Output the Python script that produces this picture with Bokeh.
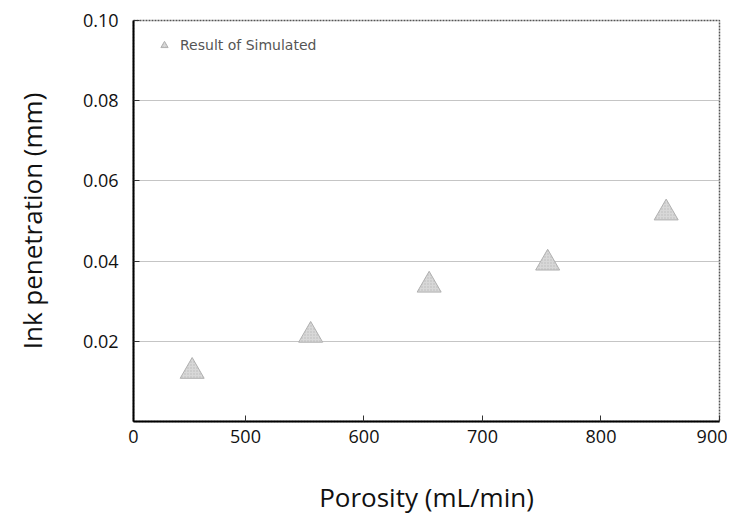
from bokeh.plotting import figure
from bokeh.models import Range1d, FixedTicker, Legend, LegendItem
from bokeh.embed import file_html
from bokeh.resources import INLINE

porosity = [455, 555, 655, 755, 855]
penetration = [0.0125, 0.0215, 0.034, 0.0395, 0.052]
x_ticks = [405.5, 500, 600, 700, 800, 900]
x_tick_labels = {405.5: "0", 500: "500", 600: "600", 700: "700", 800: "800", 900: "900"}
y_ticks = [0.02, 0.04, 0.06, 0.08, 0.10]
y_tick_labels = {0.02: "0.02", 0.04: "0.04", 0.06: "0.06", 0.08: "0.08", 0.10: "0.10"}
series_name = "Result of Simulated"

p = figure(width=727, height=516, output_backend="svg", toolbar_location=None,
           x_range=Range1d(405.5, 900), y_range=Range1d(0, 0.10),
           min_border_left=133, min_border_top=20, min_border_right=8, min_border_bottom=95)
p.frame_width = 586
p.frame_height = 401

r = p.scatter(porosity, penetration, marker="triangle", size=24,
              fill_color="#d8d8d8", line_color="#b0b0b0", line_width=1,
              hatch_pattern="dot", hatch_color="#9a9a9a", hatch_scale=3, hatch_alpha=0.5)

font = "Open Sans"
p.xaxis.ticker = FixedTicker(ticks=x_ticks)
p.xaxis.major_label_overrides = x_tick_labels
p.yaxis.ticker = FixedTicker(ticks=y_ticks)
p.yaxis.major_label_overrides = y_tick_labels
for ax in (p.xaxis, p.yaxis):
    ax.axis_line_color = "black"
    ax.axis_line_width = 2
    ax.major_tick_in = 6
    ax.major_tick_out = 0
    ax.minor_tick_in = 0
    ax.minor_tick_out = 0
    ax.major_tick_line_color = "#333333"
    ax.major_label_text_font = font
    ax.major_label_text_font_size = "18px"
    ax.major_label_text_color = "#111111"
    ax.axis_label_text_font = font
    ax.axis_label_text_font_size = "26px"
    ax.axis_label_text_font_style = "normal"
    ax.axis_label_text_color = "#111111"

p.xaxis.axis_label = "Porosity (mL/min)"
p.yaxis.axis_label = "Ink penetration (mm)"
p.xaxis.major_label_standoff = 8
p.yaxis.major_label_standoff = 15
p.xaxis.axis_label_standoff = 33
p.yaxis.axis_label_standoff = 30

p.xgrid.visible = False
p.ygrid.grid_line_color = "#8a8a8a"
p.ygrid.grid_line_dash = "1 1"
p.ygrid.grid_line_width = 1

p.outline_line_color = "#555555"
p.outline_line_width = 1.5
p.outline_line_dash = "2 1"

legend = Legend(items=[LegendItem(label=series_name, renderers=[r])], location="top_left",
                border_line_color=None, background_fill_alpha=0,
                label_text_font="DejaVu Sans", label_text_font_size="14px",
                label_text_color="#555555", glyph_width=30, glyph_height=18,
                margin=16, padding=4, label_standoff=1)
p.add_layout(legend)

p.background_fill_color = "white"
p.border_fill_color = "white"

open("out.html", "w").write(file_html(p, INLINE))
